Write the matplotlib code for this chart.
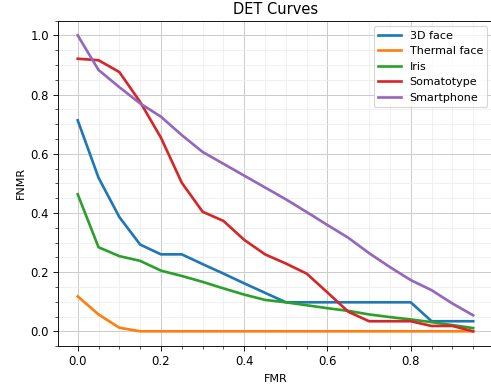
import matplotlib
matplotlib.use("Agg")
import matplotlib.pyplot as plt

fmr = [0.0, 0.05, 0.1, 0.15, 0.2, 0.25, 0.3, 0.35, 0.4, 0.45,
       0.5, 0.55, 0.6, 0.65, 0.7, 0.75, 0.8, 0.85, 0.9, 0.95]

face_3d = [0.713, 0.519, 0.386, 0.293, 0.26, 0.26, 0.227, 0.195, 0.162, 0.13,
           0.098, 0.098, 0.098, 0.098, 0.098, 0.098, 0.098, 0.034, 0.034, 0.034]
thermal_face = [0.118, 0.057, 0.012, 0.0, 0.0, 0.0, 0.0, 0.0, 0.0, 0.0,
                0.0, 0.0, 0.0, 0.0, 0.0, 0.0, 0.0, 0.0, 0.0, 0.0]
iris = [0.463, 0.284, 0.254, 0.238, 0.205, 0.187, 0.167, 0.145, 0.124, 0.106,
        0.098, 0.088, 0.078, 0.069, 0.057, 0.048, 0.04, 0.031, 0.021, 0.011]
somatotype = [0.921, 0.916, 0.876, 0.775, 0.654, 0.502, 0.404, 0.373, 0.309, 0.26,
              0.229, 0.195, 0.131, 0.066, 0.034, 0.034, 0.034, 0.018, 0.018, 0.0]
smartphone = [1.0, 0.883, 0.825, 0.77, 0.725, 0.663, 0.606, 0.566, 0.526, 0.486,
              0.446, 0.403, 0.359, 0.316, 0.264, 0.217, 0.173, 0.139, 0.094, 0.054]

series = [("3D face", face_3d), ("Thermal face", thermal_face), ("Iris", iris),
          ("Somatotype", somatotype), ("Smartphone", smartphone)]

fig, ax = plt.subplots(figsize=(491 / 80, 388 / 80), dpi=80)
# the right spine sits just past the picture's edge in the reference
fig.subplots_adjust(left=0.118, right=1.004, top=0.947, bottom=0.108)

for name, values in series:
    ax.plot(fmr, values, linewidth=2.4, label=name)

ax.minorticks_on()
ax.tick_params(which="major", length=4.5, labelsize=10.5)
ax.tick_params(which="minor", length=3)
ax.grid(which="major", color="#cccccc", linewidth=0.9)
ax.grid(which="minor", color="#ececec", linewidth=0.7)
ax.set_axisbelow(True)

ax.set_title("DET Curves", fontsize=13.2)
ax.set_xlabel("FMR", labelpad=5)
ax.set_ylabel("FNMR")
ax.legend(loc="upper right")

plt.savefig("out.png", dpi=80)
